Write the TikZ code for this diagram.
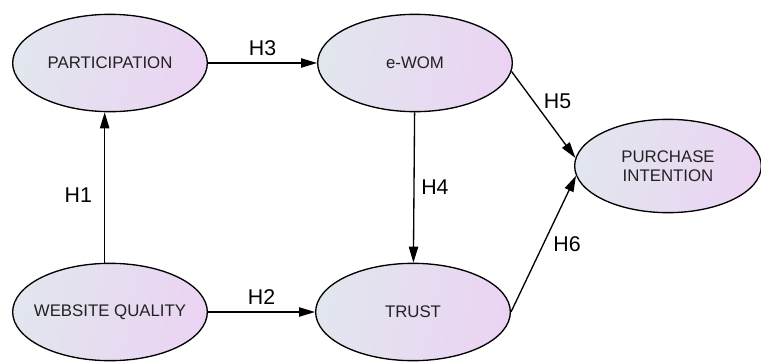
\documentclass[tikz,border=0pt]{standalone}
\usepackage{fontspec}
\setmainfont{Liberation Sans}
\usetikzlibrary{shapes.geometric,arrows.meta}
\definecolor{ovalleft}{RGB}{226,230,238}
\definecolor{ovalright}{RGB}{235,212,243}
\definecolor{ovaltext}{RGB}{34,34,34}
\tikzset{
    construct/.style={ellipse, draw, line width=1pt, inner sep=-12pt,
        minimum width=146pt, minimum height=73pt, align=center,
        left color=ovalleft, right color=ovalright, shading angle=80,
        text=ovaltext, font=\fontsize{12.6}{14.5}\selectfont},
    path/.style={line width=1pt, -{Triangle[length=12pt,width=7pt]}},
    hyp/.style={font=\fontsize{16}{18}\selectfont, inner sep=3pt}
}

\begin{document}
\begin{tikzpicture}[x=0.75pt, y=-0.75pt]
    \useasboundingbox (0,0) rectangle (761,361);
    % Draw constructs
    \node [construct] (part)  at (110,63)  {PARTICIPATION};
    \node [construct] (ewom)  at (415,63)  {e-WOM};
    \node [construct] (wq)    at (110,312) {WEBSITE QUALITY};
    \node [construct] (trust) at (413,312) {TRUST};
    \node [construct, minimum width=140pt, minimum height=70pt] (pi) at (668,166) {PURCHASE\\INTENTION};
    % Draw hypotheses
    \draw [path] ([xshift=-4pt]wq.north) -- ([xshift=-4pt]part.south) node [hyp, pos=0.45, left=6pt] {H1};
    \draw [path] (wq) -- (trust) node [hyp, midway, above=2pt] {H2};
    \draw [path] (part) -- (ewom) node [hyp, midway, above=2pt] {H3};
    \draw [path] (ewom) -- (trust) node [hyp, midway, right=2pt] {H4};
    \draw [path] (ewom.-5) -- (pi.175) node [hyp, pos=0.35, right=4pt] {H5};
    \draw [path] (trust.east) -- (pi.186) node [hyp, midway, right=4pt] {H6};
\end{tikzpicture}
\end{document}
